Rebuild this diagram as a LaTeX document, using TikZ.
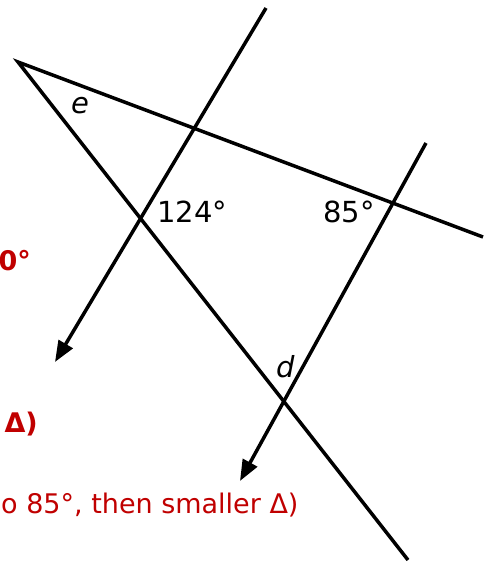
\documentclass[tikz,border=0pt]{standalone}
\usepackage{fontspec}
\setmainfont{DejaVu Sans}
\usepackage{xcolor}
\definecolor{colAns}{RGB}{192,0,0}
\usetikzlibrary{arrows.meta, positioning, calc}

\begin{document}
\begin{tikzpicture}[x=1pt, y=-1pt, >={Triangle[length=21pt, width=16pt]},
		every node/.style={inner sep=0pt, font=\fontsize{27}{32}\selectfont},
		edge line/.style={line width=3.5pt},
		ans/.style={text=colAns, anchor=base east, font=\fontsize{27}{32}\selectfont\bfseries},
		angle lbl/.style={anchor=base west, font=\fontsize{29}{34}\selectfont}]
	\useasboundingbox (0,0) rectangle (492,563);
	% corner and free ends of the lines
	\coordinate (apex) at (18,62);
	\coordinate (topEnd) at (483,237);
	\coordinate (diagEnd) at (408,560);
	\coordinate (leftTop) at (266,8);
	\coordinate (leftTip) at (55,362);
	\coordinate (rightTop) at (426,143);
	\coordinate (rightTip) at (240,481);
	\draw[edge line] (topEnd) -- (apex) -- (diagEnd);
	\foreach \a/\b in {leftTop/leftTip, rightTop/rightTip}{
		\draw[edge line, ->] (\a) -- (\b);
	}
	% angle labels
	\node[angle lbl] (lblE) at (71,113) {\itshape e};
	\node[angle lbl] (lblA) at (157,222) {124°};
	\node[angle lbl] (lblB) at (323,222) {85°};
	\node[angle lbl] (lblD) at (276,377) {\itshape d};
	% red notes, cut at the left edge
	\node[ans] (noteA) at (31,270) {0°};
	\node[ans] (noteB) at (38,432) {Δ)};
	\node[text=colAns, anchor=base west] (noteC) at (1,513) {o 85°, then smaller Δ)};
\end{tikzpicture}
\end{document}
